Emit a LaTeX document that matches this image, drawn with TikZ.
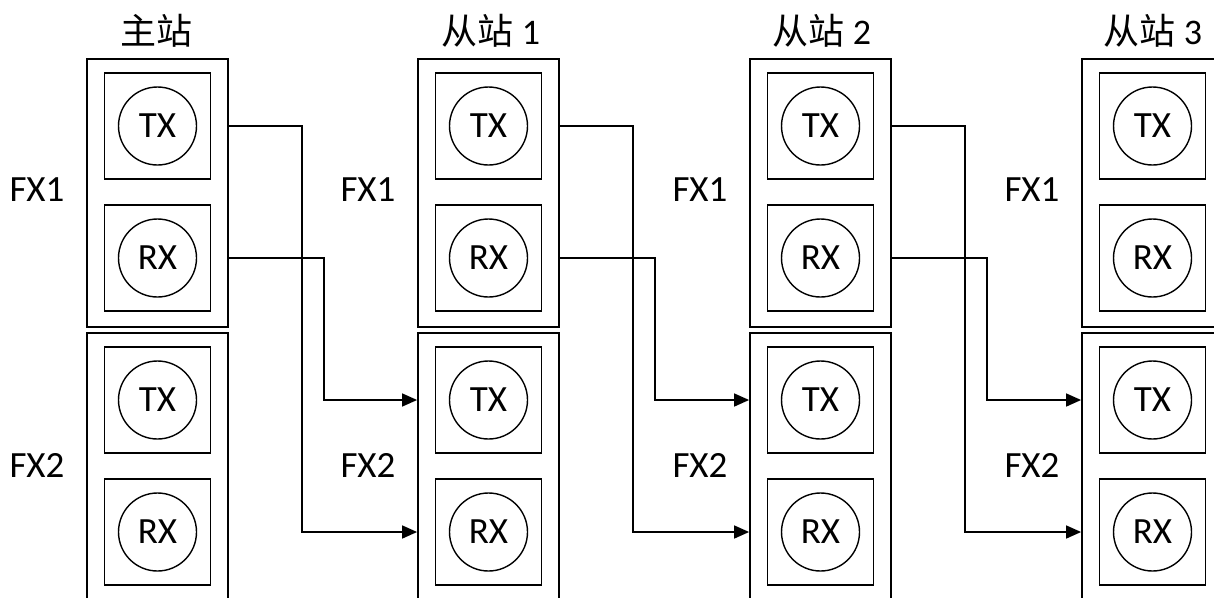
\documentclass[tikz,border=0pt]{standalone}
\usepackage{fontspec}
\setmainfont{Carlito}
\newfontfamily\cjk{Noto Sans CJK SC}
\usetikzlibrary{arrows.meta}
\begin{document}
\begin{tikzpicture}[x=1pt,y=-1pt,
  outerbox/.style={draw,line width=1.8pt,minimum width=141pt,minimum height=268pt,inner sep=0pt},
  port/.style={draw,line width=1.8pt,minimum size=106pt,inner sep=0pt},
  ring/.style={draw,circle,line width=1.4pt,minimum size=78pt,inner sep=0pt,font=\fontsize{37}{42}\selectfont},
  fxlabel/.style={font=\fontsize{37}{42}\selectfont,inner sep=0pt},
  title/.style={font=\fontsize{36}{42}\selectfont,inner sep=0pt},
  link/.style={line width=1.5pt,-{Triangle[length=15pt,width=13pt]}}
]
\useasboundingbox (0,0) rectangle (1214,597);
\foreach \i/\cx in {0/157.5,1/488.5,2/820.5,3/1152.5}{
  \node[outerbox] (u\i) at (\cx,193) {};
  \node[outerbox] (l\i) at (\cx,467) {};
  \node[port] (ut\i) at (\cx,126) {};
  \node[ring] (utc\i) at (ut\i) {TX};
  \node[port] (ur\i) at (\cx,258) {};
  \node[ring] (urc\i) at (ur\i) {RX};
  \node[port] (lt\i) at (\cx,400) {};
  \node[ring] (ltc\i) at (lt\i) {TX};
  \node[port] (lr\i) at (\cx,532) {};
  \node[ring] (lrc\i) at (lr\i) {RX};
  \node[fxlabel] (fa\i) at (\cx-120.5,190) {FX1};
  \node[fxlabel] (fb\i) at (\cx-120.5,465) {FX2};
}
\node[title] (t0) at (156,31) {\cjk 主站};
\node[title] (t1) at (491,31) {{\cjk 从站} 1};
\node[title] (t2) at (822,31) {{\cjk 从站} 2};
\node[title] (t3) at (1153,31) {{\cjk 从站} 3};
\foreach \i/\j in {0/1,1/2,2/3}{
  \draw[link] (u\i.east |- ut\i) -- ++(73,0) |- (l\j.west |- lr\j);
  \draw[link] (u\i.east |- ur\i) -- ++(95,0) |- (l\j.west |- lt\j);
}
\end{tikzpicture}
\end{document}
